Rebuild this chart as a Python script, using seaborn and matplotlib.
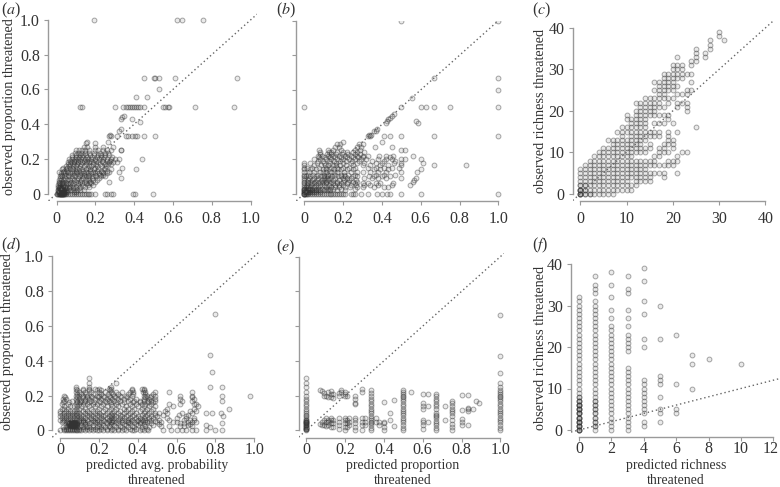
import pandas as pd
import matplotlib
matplotlib.use('Agg')
import matplotlib.pyplot as plt
import matplotlib.transforms as mtrans
import seaborn as sns

W, H = 780, 487

prop_ticks = [0, 0.2, 0.4, 0.6, 0.8, 1.0]
prop_labels = ['0', '0.2', '0.4', '0.6', '0.8', '1.0']
rich_ticks = [0, 10, 20, 30, 40]
rich_labels = ['0', '10', '20', '30', '40']
f_x_ticks = [0, 2, 4, 6, 8, 10, 12]
f_x_labels = ['0', '2', '4', '6', '8', '10', '12']

# Panel a: observed level -> predicted values
a_levels = [0, 0.01, 0.02, 0.03, 0.04, 0.05, 0.06, 0.07, 0.08, 0.09, 0.10, 0.11, 0.12, 0.125, 0.13, 0.14, 0.15, 0.16, 0.17, 0.18, 0.19, 0.20, 0.21, 0.22, 0.235, 0.25, 0.27, 0.29, 0.30, 0.333, 0.34, 0.36, 0.375, 0.415, 0.43, 0.44, 0.45, 0.5, 0.555, 0.6, 0.667, 1.0]
a_pred = [
    [0, 0.005, 0.01, 0.012, 0.015, 0.018, 0.02, 0.02, 0.022, 0.025, 0.025, 0.028, 0.03, 0.03, 0.033, 0.035, 0.035, 0.04, 0.04, 0.045, 0.05, 0.06, 0.07, 0.08, 0.09, 0.1, 0.11, 0.12, 0.13, 0.14, 0.15, 0.16, 0.17, 0.18, 0.2, 0.25, 0.26, 0.28, 0.29, 0.395, 0.405, 0.495],
    [0.01, 0.015, 0.018, 0.02, 0.022, 0.025, 0.027, 0.03, 0.032, 0.035, 0.038, 0.04, 0.045, 0.05, 0.055, 0.09, 0.1],
    [0.006, 0.01, 0.015, 0.02, 0.025, 0.03, 0.035, 0.04, 0.05, 0.06, 0.075, 0.09, 0.105, 0.12, 0.14],
    [0.012, 0.018, 0.024, 0.03, 0.036, 0.042, 0.05, 0.065, 0.085, 0.115],
    [0.007, 0.013, 0.02, 0.028, 0.035, 0.045, 0.055, 0.07, 0.085, 0.1, 0.12, 0.145, 0.17],
    [0.009, 0.016, 0.032, 0.048, 0.078, 0.11, 0.135, 0.16, 0.19],
    [0.012, 0.018, 0.026, 0.035, 0.05, 0.06, 0.07, 0.085, 0.11, 0.13, 0.15, 0.165, 0.18],
    [0.015, 0.03, 0.045, 0.075, 0.1, 0.12, 0.14, 0.175, 0.2, 0.27],
    [0.014, 0.022, 0.04, 0.055, 0.07, 0.09, 0.105, 0.125, 0.15, 0.17, 0.19, 0.21],
    [0.02, 0.045, 0.08, 0.11, 0.135, 0.16, 0.185, 0.22, 0.33],
    [0.016, 0.03, 0.05, 0.065, 0.08, 0.095, 0.115, 0.13, 0.15, 0.17, 0.19, 0.205, 0.23, 0.25],
    [0.024, 0.04, 0.058, 0.088, 0.122, 0.142, 0.163, 0.198, 0.222, 0.238],
    [0.025, 0.045, 0.07, 0.09, 0.105, 0.125, 0.14, 0.16, 0.18, 0.2, 0.22, 0.24, 0.26],
    [0.012, 0.035, 0.06, 0.1, 0.15, 0.19, 0.235, 0.27, 0.32],
    [0.038, 0.052, 0.078, 0.098, 0.118, 0.138, 0.172, 0.208, 0.228, 0.258],
    [0.03, 0.05, 0.07, 0.085, 0.105, 0.13, 0.15, 0.175, 0.195, 0.215, 0.245, 0.28, 0.41],
    [0.035, 0.055, 0.08, 0.115, 0.16, 0.2, 0.25, 0.34],
    [0.05, 0.065, 0.085, 0.1, 0.12, 0.14, 0.165, 0.18, 0.21, 0.235, 0.255],
    [0.058, 0.072, 0.092, 0.108, 0.128, 0.152, 0.188, 0.202, 0.226, 0.248, 0.268, 0.282],
    [0.06, 0.075, 0.09, 0.11, 0.13, 0.15, 0.17, 0.19, 0.215, 0.24, 0.27, 0.29, 0.31],
    [0.07, 0.088, 0.102, 0.122, 0.142, 0.158, 0.178, 0.205, 0.232, 0.262, 0.278],
    [0.065, 0.08, 0.095, 0.11, 0.125, 0.145, 0.16, 0.18, 0.2, 0.22, 0.24, 0.26, 0.28, 0.30, 0.32, 0.44],
    [0.078, 0.098, 0.118, 0.132, 0.155, 0.185, 0.21, 0.228, 0.245, 0.285],
    [0.08, 0.1, 0.12, 0.135, 0.15, 0.175, 0.195, 0.215, 0.23, 0.25, 0.27],
    [0.095, 0.112, 0.128, 0.148, 0.168, 0.192, 0.225, 0.248, 0.265],
    [0.1, 0.115, 0.13, 0.145, 0.165, 0.2, 0.215, 0.24, 0.26, 0.28, 0.33, 0.335],
    [0.14, 0.155, 0.2, 0.24, 0.29],
    [0.15, 0.2],
    [0.155, 0.265],
    [0.27, 0.28, 0.31, 0.36, 0.37, 0.39, 0.405, 0.415, 0.45, 0.51],
    [0.275],
    [0.32],
    [0.335],
    [0.43],
    [0.33, 0.39],
    [0.34],
    [0.35],
    [0.12, 0.13, 0.30, 0.345, 0.36, 0.37, 0.38, 0.39, 0.40, 0.41, 0.42, 0.43, 0.45, 0.55, 0.56, 0.575, 0.58, 0.715, 0.915],
    [0.41, 0.465],
    [0.53],
    [0.45, 0.50, 0.51, 0.53, 0.61, 0.93],
    [0.195, 0.62, 0.645, 0.755],
]

# Panel b
b_levels = [0, 0.01, 0.02, 0.03, 0.04, 0.05, 0.06, 0.07, 0.08, 0.09, 0.10, 0.11, 0.125, 0.14, 0.15, 0.167, 0.18, 0.19, 0.20, 0.21, 0.22, 0.23, 0.24, 0.25, 0.27, 0.29, 0.30, 0.333, 0.34, 0.36, 0.375, 0.41, 0.42, 0.43, 0.44, 0.45, 0.46, 0.5, 0.555, 0.6, 0.667, 1.0]
b_pred = [
    [0, 0, 0, 0, 0.005, 0.01, 0.015, 0.02, 0.03, 0.04, 0.05, 0.06, 0.07, 0.08, 0.09, 0.1, 0.11, 0.12, 0.13, 0.14, 0.15, 0.16, 0.17, 0.18, 0.19, 0.2, 0.21, 0.24, 0.25, 0.26, 0.29, 0.33, 0.375, 0.4, 0.425, 0.44, 0.5, 0.6, 1.0],
    [0, 0, 0, 0.01, 0.02, 0.03, 0.04, 0.06, 0.08, 0.015, 0.025, 0.05],
    [0, 0, 0.01, 0.02, 0.03, 0.04, 0.05, 0.06, 0.08, 0.1, 0.13, 0.17, 0.21, 0.015, 0.07, 0.115],
    [0, 0, 0.015, 0.025, 0.04, 0.06, 0.09, 0.12, 0.15, 0.19, 0.26, 0.035, 0.075, 0.105, 0.135],
    [0, 0.01, 0.02, 0.03, 0.05, 0.07, 0.11, 0.14, 0.18, 0.21, 0.27, 0.3, 0.36, 0.41, 0.43, 0.16, 0.235],
    [0, 0.012, 0.035, 0.06, 0.08, 0.1, 0.125, 0.16, 0.2, 0.24, 0.31, 0.34, 0.38, 0.45, 0.545, 0.18, 0.265],
    [0, 0.02, 0.04, 0.05, 0.07, 0.09, 0.13, 0.15, 0.19, 0.22, 0.26, 0.3, 0.33, 0.37, 0.39, 0.455, 0.11, 0.17],
    [0, 0.015, 0.03, 0.055, 0.08, 0.11, 0.14, 0.17, 0.2, 0.25, 0.27, 0.56, 0.095, 0.225],
    [0, 0.02, 0.04, 0.065, 0.09, 0.12, 0.15, 0.18, 0.23, 0.265, 0.565, 0.105, 0.205],
    [0, 0.025, 0.05, 0.07, 0.1, 0.13, 0.16, 0.2, 0.24, 0.31, 0.35, 0.38, 0.42, 0.5, 0.575, 0.115, 0.22],
    [0, 0.01, 0.03, 0.06, 0.085, 0.115, 0.145, 0.175, 0.21, 0.25, 0.27, 0.335, 0.36, 0.4, 0.44, 0.1, 0.19],
    [0, 0.02, 0.045, 0.07, 0.1, 0.13, 0.16, 0.19, 0.225, 0.26, 0.37, 0.41, 0.47, 0.12, 0.205],
    [0, 0.025, 0.05, 0.08, 0.11, 0.14, 0.17, 0.205, 0.24, 0.27, 0.3, 0.34, 0.38, 0.42, 0.5, 0.58, 0.095, 0.155],
    [0, 0.03, 0.06, 0.095, 0.125, 0.155, 0.19, 0.22, 0.25, 0.36, 0.39, 0.43, 0.6, 0.11, 0.175],
    [0, 0.015, 0.04, 0.075, 0.11, 0.14, 0.17, 0.2, 0.23, 0.26, 0.33, 0.37, 0.41, 0.45, 0.49],
    [0, 0.05, 0.085, 0.12, 0.15, 0.185, 0.215, 0.25, 0.3, 0.34, 0.39, 0.43, 0.5, 0.667, 0.833, 0.105, 0.165],
    [0, 0.03, 0.065, 0.1, 0.135, 0.165, 0.2, 0.24, 0.27, 0.31, 0.37, 0.4, 0.46, 0.5, 0.61],
    [0.07, 0.095, 0.125, 0.155, 0.185, 0.215, 0.245, 0.28, 0.35, 0.41, 0.47],
    [0.05, 0.08, 0.11, 0.14, 0.17, 0.2, 0.23, 0.26, 0.29, 0.32, 0.38, 0.42, 0.45, 0.5, 0.52, 0.6],
    [0.075, 0.105, 0.13, 0.16, 0.19, 0.22, 0.25, 0.275, 0.305, 0.44],
    [0.07, 0.09, 0.12, 0.15, 0.18, 0.21, 0.24, 0.27, 0.3, 0.33, 0.385, 0.42, 0.455, 0.56],
    [0.08, 0.115, 0.14, 0.165, 0.195, 0.225, 0.26, 0.285],
    [0.08, 0.125, 0.14, 0.17, 0.2, 0.22, 0.25, 0.27, 0.31],
    [0.075, 0.12, 0.15, 0.19, 0.26, 0.285, 0.5, 0.52],
    [0.16, 0.18, 0.27, 0.29, 0.365, 0.45],
    [0.17, 0.185, 0.28, 0.3],
    [0.2, 0.4],
    [0.33, 0.34, 0.41, 0.44, 0.5, 0.667, 1.0],
    [0.335, 0.345],
    [0.36, 0.37],
    [0.375],
    [0.585, 0.42],
    [0.425, 0.575],
    [0.43],
    [0.44],
    [0.45],
    [0.46],
    [0, 0.5, 0.6, 0.625, 0.667, 0.75, 1.0],
    [0.555],
    [1.0],
    [0.667, 1.0],
    [0.5, 1.0],
]

# Panel c: predicted richness -> observed richness
c_pred = [0, 1, 2, 3, 4, 5, 6, 7, 8, 9, 10, 11, 12, 13, 14, 15, 16, 17, 18, 19, 20, 21, 22, 23, 24, 25, 27, 28, 30, 31]
c_obs = [
    [0, 0, 0, 0, 1, 1, 1, 1, 2, 2, 3, 4, 5, 6],
    [0, 0, 1, 1, 2, 2, 3, 4, 5, 6, 7],
    [0, 0, 1, 2, 3, 4, 5, 6, 7, 8],
    [0, 1, 2, 3, 4, 5, 6, 7, 8, 9],
    [0, 1, 2, 3, 4, 5, 6, 7, 8, 9, 10],
    [0, 1, 2, 3, 4, 5, 6, 7, 8, 9, 10, 11],
    [0, 1, 2, 3, 4, 5, 6, 7, 8, 9, 10, 11, 13],
    [0, 1, 2, 3, 4, 5, 6, 7, 8, 9, 10, 11, 12, 13],
    [1, 2, 3, 4, 5, 6, 7, 8, 9, 10, 11, 12, 13, 15],
    [1, 2, 3, 4, 5, 6, 7, 8, 9, 10, 11, 12, 13, 14, 15, 16],
    [1, 2, 3, 4, 5, 6, 7, 8, 9, 10, 11, 12, 13, 15, 16, 18, 19],
    [1, 2, 4, 5, 6, 7, 8, 9, 10, 11, 12, 13, 14, 15, 16, 17, 18],
    [2, 3, 4, 5, 6, 7, 8, 10, 11, 12, 13, 14, 15, 16, 17, 18, 19, 20, 22],
    [3, 4, 5, 6, 7, 8, 10, 11, 12, 13, 14, 15, 16, 17, 18, 19, 20, 21, 22],
    [3, 4, 5, 6, 7, 8, 10, 11, 13, 14, 15, 16, 17, 18, 19, 20, 21, 22, 23],
    [3, 4, 5, 7, 8, 11, 12, 14, 15, 19, 20, 21, 22, 23],
    [5, 7, 8, 9, 14, 15, 17, 19, 20, 21, 22, 23, 25, 27],
    [5, 7, 9, 10, 11, 14, 15, 17, 19, 21, 22, 23, 24, 25, 26, 27],
    [4, 5, 7, 10, 11, 12, 17, 19, 21, 23, 24, 25, 26, 27, 28, 29],
    [7, 8, 10, 12, 13, 14, 15, 18, 19, 22, 23, 25, 26, 27, 28, 29],
    [7, 8, 11, 12, 13, 17, 23, 25, 26, 27, 28, 29, 30, 31],
    [5, 8, 9, 15, 21, 22, 24, 26, 28, 29, 30, 31, 33],
    [10, 22, 24, 28, 29, 30, 31],
    [10, 20, 21, 22, 24, 25, 29],
    [25, 27, 29, 31, 32],
    [16, 32, 33, 34, 35],
    [33, 34],
    [35, 36, 37],
    [38, 39],
    [37],
]

# Panel d
d_levels = [0, 0.01, 0.02, 0.025, 0.03, 0.035, 0.04, 0.045, 0.05, 0.055, 0.06, 0.07, 0.08, 0.09, 0.10, 0.11, 0.125, 0.14, 0.15, 0.16, 0.167, 0.18, 0.19, 0.2, 0.21, 0.22, 0.23, 0.24, 0.25, 0.27, 0.3, 0.333, 0.43, 0.667]
d_pred = [
    [0, 0.02, 0.03, 0.04, 0.05, 0.06, 0.07, 0.08, 0.09, 0.1, 0.11, 0.13, 0.15, 0.17, 0.19, 0.2, 0.22, 0.24, 0.26, 0.28, 0.3, 0.32, 0.34, 0.37, 0.38, 0.41, 0.43, 0.455, 0.53, 0.57, 0.6, 0.63, 0.65, 0.68, 0.7, 0.75, 0.8, 0.835],
    [0.02, 0.03, 0.04, 0.05, 0.06, 0.07, 0.08, 0.1, 0.12, 0.14, 0.16, 0.18, 0.21, 0.24, 0.27, 0.3, 0.33, 0.36, 0.39, 0.42, 0.45],
    [0.015, 0.03, 0.075, 0.09, 0.105, 0.12, 0.135, 0.15, 0.17, 0.19, 0.21, 0.23, 0.255, 0.29, 0.32, 0.35, 0.38, 0.42, 0.46, 0.77],
    [0.05, 0.055, 0.06, 0.065, 0.07, 0.075, 0.14, 0.2, 0.25, 0.31, 0.37, 0.44, 0.52, 0.56, 0.62, 0.64, 0.68],
    [0.04, 0.045, 0.05, 0.055, 0.06, 0.065, 0.07, 0.075, 0.08, 0.085, 0.11, 0.17, 0.22, 0.28, 0.34, 0.4, 0.48, 0.66, 0.75],
    [0.04, 0.045, 0.05, 0.055, 0.06, 0.065, 0.07, 0.075, 0.08, 0.085, 0.13, 0.2, 0.26, 0.33, 0.39, 0.43, 0.51, 0.67],
    [0.04, 0.045, 0.05, 0.055, 0.06, 0.065, 0.07, 0.075, 0.08, 0.085, 0.15, 0.24, 0.3, 0.36, 0.41, 0.47, 0.62, 0.64, 0.835],
    [0.05, 0.055, 0.06, 0.065, 0.07, 0.075, 0.12, 0.18, 0.27, 0.35, 0.44, 0.5, 0.6, 0.68],
    [0.01, 0.03, 0.09, 0.11, 0.13, 0.16, 0.19, 0.21, 0.235, 0.26, 0.29, 0.32, 0.35, 0.38, 0.41, 0.45, 0.52, 0.58, 0.66, 0.7],
    [0.015, 0.035, 0.1, 0.12, 0.145, 0.175, 0.2, 0.225, 0.25, 0.275, 0.305, 0.335, 0.365, 0.395, 0.425, 0.46, 0.49],
    [0, 0.02, 0.04, 0.06, 0.08, 0.1, 0.12, 0.14, 0.17, 0.19, 0.22, 0.25, 0.27, 0.3, 0.32, 0.35, 0.37, 0.4, 0.42, 0.44, 0.47, 0.51, 0.56, 0.64, 0.67, 0.69],
    [0.01, 0.03, 0.05, 0.07, 0.09, 0.11, 0.13, 0.16, 0.18, 0.21, 0.24, 0.26, 0.28, 0.31, 0.33, 0.36, 0.39, 0.41, 0.43, 0.46, 0.48, 0.55, 0.6, 0.65, 0.69],
    [0, 0.02, 0.04, 0.06, 0.08, 0.1, 0.12, 0.15, 0.17, 0.2, 0.22, 0.25, 0.27, 0.29, 0.32, 0.34, 0.37, 0.4, 0.44, 0.47, 0.5, 0.65, 0.84],
    [0.01, 0.03, 0.05, 0.07, 0.09, 0.11, 0.14, 0.16, 0.19, 0.21, 0.23, 0.26, 0.28, 0.31, 0.35, 0.38, 0.42, 0.45, 0.49, 0.53, 0.61, 0.66],
    [0, 0.02, 0.04, 0.06, 0.08, 0.1, 0.13, 0.15, 0.18, 0.2, 0.24, 0.27, 0.3, 0.33, 0.36, 0.39, 0.43, 0.46, 0.49, 0.51, 0.55, 0.63, 0.68, 0.75, 0.78, 0.83],
    [0, 0.03, 0.05, 0.07, 0.09, 0.12, 0.14, 0.17, 0.19, 0.22, 0.25, 0.28, 0.31, 0.34, 0.37, 0.41, 0.44, 0.47, 0.54, 0.67, 0.7],
    [0.01, 0.02, 0.04, 0.08, 0.1, 0.13, 0.16, 0.2, 0.23, 0.26, 0.29, 0.33, 0.35, 0.38, 0.42, 0.45, 0.48, 0.55, 0.69, 0.87],
    [0.02, 0.05, 0.07, 0.09, 0.11, 0.15, 0.18, 0.21, 0.24, 0.27, 0.3, 0.34, 0.37, 0.4, 0.43, 0.46, 0.49, 0.58, 0.71],
    [0.01, 0.04, 0.08, 0.1, 0.12, 0.14, 0.17, 0.19, 0.22, 0.26, 0.29, 0.32, 0.36, 0.39, 0.42, 0.44, 0.47, 0.56, 0.62, 0.69, 0.7],
    [0.015, 0.045, 0.085, 0.105, 0.125, 0.15, 0.175, 0.205, 0.235, 0.265, 0.295, 0.33, 0.375, 0.41, 0.455, 0.48],
    [0.02, 0.06, 0.09, 0.11, 0.13, 0.16, 0.2, 0.23, 0.25, 0.28, 0.31, 0.35, 0.38, 0.41, 0.43, 0.45, 0.47, 0.49, 0.63, 0.68, 0.835],
    [0.015, 0.03, 0.08, 0.1, 0.13, 0.15, 0.18, 0.21, 0.24, 0.27, 0.3, 0.33, 0.36, 0.39, 0.43, 0.46, 0.49, 0.62, 0.69],
    [0.025, 0.085, 0.115, 0.14, 0.165, 0.195, 0.225, 0.255, 0.285, 0.315, 0.345, 0.435, 0.465, 0.68],
    [0.02, 0.08, 0.1, 0.12, 0.14, 0.16, 0.19, 0.2, 0.22, 0.25, 0.28, 0.31, 0.34, 0.37, 0.43, 0.45, 0.47, 0.49, 0.62, 0.68, 0.835, 0.98],
    [0.085, 0.11, 0.135, 0.17, 0.21, 0.245, 0.275, 0.3, 0.35, 0.375, 0.44, 0.48],
    [0.08, 0.1, 0.13, 0.16, 0.2, 0.23, 0.26, 0.29, 0.32, 0.36, 0.375, 0.425, 0.44, 0.49, 0.56, 0.68],
    [0.085, 0.12, 0.15, 0.19, 0.21, 0.255, 0.37, 0.43],
    [0.08, 0.12, 0.15, 0.18, 0.2, 0.25, 0.26, 0.37, 0.42, 0.43],
    [0.08, 0.15, 0.26, 0.77, 0.835],
    [0.15, 0.29],
    [0.15],
    [0.78],
    [0.77],
    [0.8],
]

# Panel e: predicted proportion -> observed proportion
e_pred = [0, 0.07, 0.08, 0.09, 0.1, 0.11, 0.125, 0.14, 0.167, 0.18, 0.2, 0.21, 0.222, 0.25, 0.286, 0.3, 0.333, 0.36, 0.375, 0.4, 0.43, 0.45, 0.5, 0.54, 0.6, 0.625, 0.667, 0.714, 0.75, 0.8, 0.833, 0.857, 0.875, 0.89, 1.0]
e_obs = [
    [0, 0.005, 0.01, 0.015, 0.02, 0.025, 0.03, 0.035, 0.04, 0.045, 0.05, 0.055, 0.06, 0.01, 0.02, 0.03, 0.04, 0.05, 0.06, 0.07, 0.08, 0.09, 0.1, 0.11, 0.125, 0.14, 0.15, 0.167, 0.18, 0.2, 0.22, 0.25, 0.27, 0.3],
    [0.035, 0.235],
    [0.03, 0.05, 0.225],
    [0.03, 0.06, 0.2, 0.215],
    [0.025, 0.045, 0.07, 0.195],
    [0.03, 0.05, 0.06, 0.19, 0.22],
    [0.02, 0.04, 0.06, 0.07, 0.19, 0.21, 0.225],
    [0.02, 0.04, 0.06, 0.185, 0.21],
    [0.01, 0.03, 0.05, 0.07, 0.2, 0.215],
    [0.22, 0.235],
    [0, 0.02, 0.04, 0.06, 0.07, 0.2, 0.21, 0.22],
    [0.02, 0.04, 0.06, 0.2],
    [0.03, 0.05, 0.07],
    [0, 0.02, 0.04, 0.06, 0.07, 0.15, 0.16, 0.18, 0.2],
    [0, 0.03, 0.05, 0.07, 0.22, 0.24],
    [0.03, 0.05, 0.07],
    [0, 0.015, 0.03, 0.04, 0.05, 0.06, 0.07, 0.08, 0.1, 0.11, 0.125, 0.14, 0.15, 0.167, 0.18, 0.2, 0.215, 0.23],
    [0.045, 0.07],
    [0.03, 0.05],
    [0, 0.02, 0.04, 0.05, 0.165],
    [0.06, 0.1],
    [0.025, 0.175],
    [0, 0.015, 0.03, 0.045, 0.06, 0.07, 0.09, 0.1, 0.11, 0.125, 0.14, 0.15, 0.167, 0.18, 0.19, 0.2, 0.21, 0.22, 0.23],
    [0.22],
    [0.01, 0.03, 0.05, 0.06, 0.125, 0.14, 0.155, 0.21],
    [0.05, 0.14, 0.21],
    [0, 0.015, 0.03, 0.04, 0.055, 0.07, 0.08, 0.09, 0.1, 0.125, 0.14, 0.15, 0.167, 0.18, 0.195, 0.21],
    [0.06, 0.14],
    [0, 0.02, 0.035, 0.06, 0.08, 0.1, 0.11, 0.125, 0.14, 0.16, 0.17],
    [0.03, 0.05, 0.065, 0.115, 0.205],
    [0.03, 0.11, 0.12, 0.13, 0.205],
    [0.125],
    [0.17],
    [0.16],
    [0, 0.015, 0.03, 0.05, 0.06, 0.07, 0.09, 0.1, 0.11, 0.125, 0.14, 0.15, 0.167, 0.18, 0.19, 0.2, 0.21, 0.22, 0.235, 0.25, 0.27, 0.33, 0.43, 0.667],
]

# Panel f
f_pred = [0, 1, 2, 3, 4, 5, 6, 7, 8, 10]
f_obs = [
    [0, 0, 0, 0, 1, 1, 1, 1, 2, 2, 2, 2, 3, 3, 3, 3, 4, 4, 4, 4, 5, 5, 5, 5, 6, 6, 6, 6, 7, 7, 7, 8, 8, 9, 10, 11, 12, 13, 14, 15, 16, 17, 18, 19, 20, 21, 22, 23, 24, 25, 26, 27, 28, 29, 30, 31, 32],
    [0, 1, 1, 2, 2, 3, 3, 4, 4, 5, 5, 6, 6, 7, 7, 8, 9, 10, 11, 12, 13, 14, 15, 16, 17, 18, 19, 20, 21, 22, 23, 24, 25, 26, 27, 28, 29, 30, 31, 33, 34, 35, 37],
    [0, 1, 2, 3, 4, 5, 6, 7, 8, 9, 10, 11, 12, 13, 14, 15, 16, 17, 18, 19, 20, 21, 22, 23, 24, 25, 27, 29, 32, 35, 38],
    [0, 1, 2, 3, 4, 5, 6, 7, 8, 9, 10, 11, 12, 13, 14, 15, 19, 20, 21, 22, 23, 25, 27, 29, 33, 34, 37],
    [1, 2, 4, 5, 6, 7, 8, 9, 10, 11, 12, 20, 22, 28, 31, 36, 39],
    [2, 4, 5, 8, 11, 12, 13, 22, 30],
    [4, 5, 11, 23],
    [10, 16, 18],
    [17],
    [16],
]


def by_level(levels, values, level_name, value_name):
    rows = [(lv, v) for lv, vals in zip(levels, values) for v in vals]
    return pd.DataFrame(rows, columns=[level_name, value_name])


def make_axes(fig, left, right, top, bottom, x0, x1, xv1, y0, y1, yv1):
    # rectangle in pixels, x0/x1 and y0/y1 are pixel positions of 0 and of xv1/yv1
    ax = fig.add_axes([left / W, 1 - bottom / H, (right - left) / W, (bottom - top) / H])
    sx = xv1 / (x1 - x0)
    sy = yv1 / (y0 - y1)
    ax.set_xlim((left - x0) * sx, (right - x0) * sx)
    ax.set_ylim((y0 - bottom) * sy, (y0 - top) * sy)
    return ax


def draw(ax, df, xticks, xlabels, yticks, ylabels, xpad):
    sns.scatterplot(data=df, x='pred', y='obs', ax=ax, s=12, marker='o',
                    facecolor=(0.2, 0.2, 0.2, 0.10), edgecolor=(0.2, 0.2, 0.2, 0.42),
                    linewidth=0.7, clip_on=True, legend=False)
    ax.axline((0, 0), slope=1, color='#666666', lw=1.0, ls=(0, (1, 2)), zorder=3)
    sns.despine(ax=ax)
    ax.spines['left'].set_bounds(yticks[0], yticks[-1])
    ax.spines['bottom'].set_bounds(xticks[0], xticks[-1])
    ax.spines['left'].set_color('#9a9a9a')
    ax.spines['bottom'].set_color('#9a9a9a')
    ax.spines['left'].set_linewidth(1.0)
    ax.spines['bottom'].set_linewidth(1.0)
    ax.set_xticks(xticks, xlabels)
    ax.set_yticks(yticks, ylabels)
    ax.tick_params(length=3, width=0.8, color='#9a9a9a', labelsize=11.5, labelcolor='#333333', pad=3)
    ax.tick_params(axis='x', pad=xpad)
    ax.set_xlabel('')
    ax.set_ylabel('')


sns.set_style('ticks')
plt.rcParams['font.family'] = ['Liberation Serif', 'DejaVu Serif']
plt.rcParams['mathtext.fontset'] = 'stix'

fig = plt.figure(figsize=(W / 100, H / 100), dpi=100)
axes = {
    'a': make_axes(fig, 48.3, 257, 13, 200.8, 56.5, 250.5, 1, 193.7, 20, 1),
    'b': make_axes(fig, 296, 505, 20.5, 200.8, 304.3, 498.3, 1, 193.7, 20.7, 1),
    'c': make_axes(fig, 572.7, 774, 20.7, 201.3, 580.3, 765.3, 40, 193.7, 28, 40),
    'd': make_axes(fig, 52.3, 260, 250, 438, 60, 254.3, 1, 430.3, 256.3, 1),
    'e': make_axes(fig, 298.7, 504, 253.3, 437.7, 306.3, 500.3, 1, 430.3, 256.7, 1),
    'f': make_axes(fig, 571, 780, 258, 437.3, 579, 773.3, 12, 430, 264, 40),
}

draw(axes['a'], by_level(a_levels, a_pred, 'obs', 'pred'), prop_ticks, prop_labels, prop_ticks, prop_labels, 4)
draw(axes['b'], by_level(b_levels, b_pred, 'obs', 'pred'), prop_ticks, prop_labels, prop_ticks, [''] * 6, 4)
draw(axes['c'], by_level(c_pred, c_obs, 'pred', 'obs'), rich_ticks, rich_labels, rich_ticks, rich_labels, 4)
draw(axes['d'], by_level(d_levels, d_pred, 'obs', 'pred'), prop_ticks, prop_labels, prop_ticks, prop_labels, 0)
draw(axes['e'], by_level(e_pred, e_obs, 'pred', 'obs'), prop_ticks, prop_labels, prop_ticks, [''] * 6, 0)
draw(axes['f'], by_level(f_pred, f_obs, 'pred', 'obs'), f_x_ticks, f_x_labels, rich_ticks, rich_labels, 0)

# the last tick label of (f) sits right against the edge
last = axes['f'].get_xticklabels()[-1]
last.set_transform(last.get_transform() + mtrans.ScaledTranslation(-3 / 100, 0, fig.dpi_scale_trans))

# panel letters
for key, px, py in [('a', 1, 10), ('b', 276, 10), ('c', 532, 10), ('d', 1, 245), ('e', 276, 247), ('f', 532, 245)]:
    fig.text(px / W, 1 - py / H, f'(${key}$)', fontsize=11.5, color='#333333', ha='left', va='center')

# axis titles
for text, px, py in [('observed proportion threatened', 10, 107), ('observed richness threatened', 541, 111),
                     ('observed proportion threatened', 8, 342), ('observed richness threatened', 541, 347.5)]:
    fig.text(px / W, 1 - py / H, text, rotation=90, fontsize=10.3, color='#333333', ha='center', va='center')

for text, px, py in [('predicted avg. probability', 157, 466), ('threatened', 157, 481),
                     ('predicted proportion', 403, 466), ('threatened', 403, 481),
                     ('predicted richness', 676, 466), ('threatened', 676, 481)]:
    fig.text(px / W, 1 - py / H, text, fontsize=9.9, color='#333333', ha='center', va='center')

fig.savefig('out.png', dpi=100)
